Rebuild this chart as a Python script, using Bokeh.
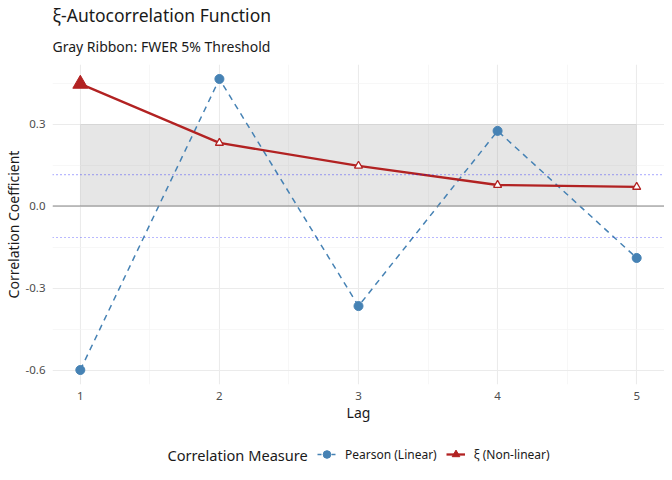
from bokeh.plotting import figure
from bokeh.layouts import column
from bokeh.models import (Range1d, FixedTicker, Span, Legend, LegendItem, Title,
                          PrintfTickFormatter, Label)
from bokeh.embed import file_html
from bokeh.resources import INLINE

# ---- data ----
lags = [1, 2, 3, 4, 5]
pearson_acf = [-0.600, 0.465, -0.366, 0.275, -0.190]
xi_acf = [0.447, 0.231, 0.147, 0.077, 0.070]
fwer_threshold = [0.30, 0.30, 0.30, 0.30, 0.30]
pearson_bound = 0.115
y_tick_values = [-0.6, -0.3, 0.0, 0.3]
y_minor_values = [-0.45, -0.15, 0.15, 0.45]
x_minor_values = [1.5, 2.5, 3.5, 4.5]

FONT = "Noto Sans"
PEARSON_COLOR = "steelblue"
XI_COLOR = "firebrick"

xi_sig = [v > t for v, t in zip(xi_acf, fwer_threshold)]
sig_x = [l for l, s in zip(lags, xi_sig) if s]
sig_y = [v for v, s in zip(xi_acf, xi_sig) if s]
ns_x = [l for l, s in zip(lags, xi_sig) if not s]
ns_y = [v for v, s in zip(xi_acf, xi_sig) if not s]

p = figure(frame_width=612, frame_height=320, output_backend="svg",
           toolbar_location=None,
           x_range=Range1d(0.8, 5.2), y_range=Range1d(-0.653, 0.518),
           min_border_left=44, min_border_right=0, min_border_top=0,
           min_border_bottom=44)
p.outline_line_color = None
p.background_fill_color = "white"
p.border_fill_color = "white"

# titles
p.title.text = "ξ-Autocorrelation Function"
p.title.text_font = FONT
p.title.text_font_size = "17.5px"
p.title.text_font_style = "normal"
p.title.text_color = "#1a1a1a"
p.title.align = "left"
p.title.standoff = 0
sub_title = Title(text="Gray Ribbon: FWER 5% Threshold", text_font=FONT,
                  text_font_size="14px", text_font_style="normal",
                  text_color="#1a1a1a", align="left", standoff=17)
p.add_layout(sub_title, "above")

# axes
for ax in (p.xaxis[0], p.yaxis[0]):
    ax.axis_line_color = None
    ax.major_tick_line_color = None
    ax.minor_tick_line_color = None
    ax.major_label_text_font = FONT
    ax.major_label_text_font_size = "11.5px"
    ax.major_label_text_color = "#4d4d4d"
    ax.axis_label_text_font = FONT
    ax.axis_label_text_font_size = "14px"
    ax.axis_label_text_font_style = "normal"
    ax.axis_label_text_color = "#1a1a1a"
p.xaxis.ticker = FixedTicker(ticks=lags)
p.yaxis.ticker = FixedTicker(ticks=y_tick_values)
p.yaxis.formatter = PrintfTickFormatter(format="%.1f")
p.xaxis.axis_label = "Lag"
p.yaxis.axis_label = "Correlation Coefficient"
p.xaxis.major_label_standoff = 1
p.yaxis.major_label_standoff = 1
p.xaxis.axis_label_standoff = 0
p.yaxis.axis_label_standoff = 0

# grid
p.xgrid.ticker = FixedTicker(ticks=lags, minor_ticks=x_minor_values)
p.ygrid.ticker = FixedTicker(ticks=y_tick_values, minor_ticks=y_minor_values)
for g in (p.xgrid[0], p.ygrid[0]):
    g.grid_line_color = "#ebebeb"
    g.grid_line_width = 1.1
    g.minor_grid_line_color = "#f3f3f3"
    g.minor_grid_line_width = 0.7

# FWER ribbon
p.varea(x=lags, y1=[0] * len(lags), y2=fwer_threshold,
        fill_color="#808080", fill_alpha=0.2)

# zero line and Pearson bounds
p.add_layout(Span(location=0, dimension="width", line_color="#858585",
                  line_width=1.1))
for b in (pearson_bound, -pearson_bound):
    p.add_layout(Span(location=b, dimension="width", line_color="blue",
                      line_alpha=0.55, line_width=1.1, line_dash="1 3"))

# series
p.line(lags, pearson_acf, line_color=PEARSON_COLOR, line_width=1.5,
       line_dash="6 5")
p.line(lags, xi_acf, line_color=XI_COLOR, line_width=2.3)
p.scatter(lags, pearson_acf, marker="circle", size=9,
          fill_color=PEARSON_COLOR, line_color=PEARSON_COLOR)
p.scatter(sig_x, sig_y, marker="triangle", size=15,
          fill_color=XI_COLOR, line_color=XI_COLOR)
p.scatter(ns_x, ns_y, marker="triangle", size=8, fill_color="white",
          line_color=XI_COLOR, line_width=1.3)

# ---- legend strip (separate small figure below the chart) ----
# the series are drawn here again, but outside this strip's visible x range,
# only so that the legend can show their keys
lf = figure(width=656, height=44, output_backend="svg", toolbar_location=None,
            x_axis_type=None, y_axis_type=None, title=None,
            x_range=Range1d(100, 101), y_range=Range1d(0, 1),
            min_border_left=0, min_border_right=0, min_border_top=0,
            min_border_bottom=0)
lf.outline_line_color = None
lf.background_fill_color = "white"
lf.border_fill_color = "white"

lpl = lf.line(lags, pearson_acf, line_color=PEARSON_COLOR, line_width=1.5,
              line_dash="4 3")
lpp = lf.scatter(lags, pearson_acf, marker="circle", size=9,
                 fill_color=PEARSON_COLOR, line_color=PEARSON_COLOR)
lxl = lf.line(lags, xi_acf, line_color=XI_COLOR, line_width=2.3)
lxs = lf.scatter(lags, xi_acf, marker="triangle", size=13,
                 fill_color=XI_COLOR, line_color=XI_COLOR)

items = [LegendItem(label="Pearson (Linear)", renderers=[lpl, lpp]),
         LegendItem(label="ξ (Non-linear)", renderers=[lxl, lxs])]
legend = Legend(items=items, orientation="horizontal", location=(265, 8))
legend.label_text_font = FONT
legend.label_text_font_size = "12px"
legend.label_text_color = "#1a1a1a"
legend.border_line_color = None
legend.background_fill_alpha = 0
legend.padding = 0
legend.margin = 0
legend.spacing = 9
legend.label_standoff = 9
legend.glyph_width = 19
legend.glyph_height = 20
lf.add_layout(legend, "center")

lf.add_layout(Label(x=115, y=18, x_units="screen", y_units="screen",
                    text="Correlation Measure", text_font=FONT,
                    text_font_size="14.6px", text_color="#1a1a1a",
                    text_baseline="middle", text_align="left"))

layout = column(p, lf, spacing=0)
open("out.html", "w").write(file_html(layout, INLINE))
